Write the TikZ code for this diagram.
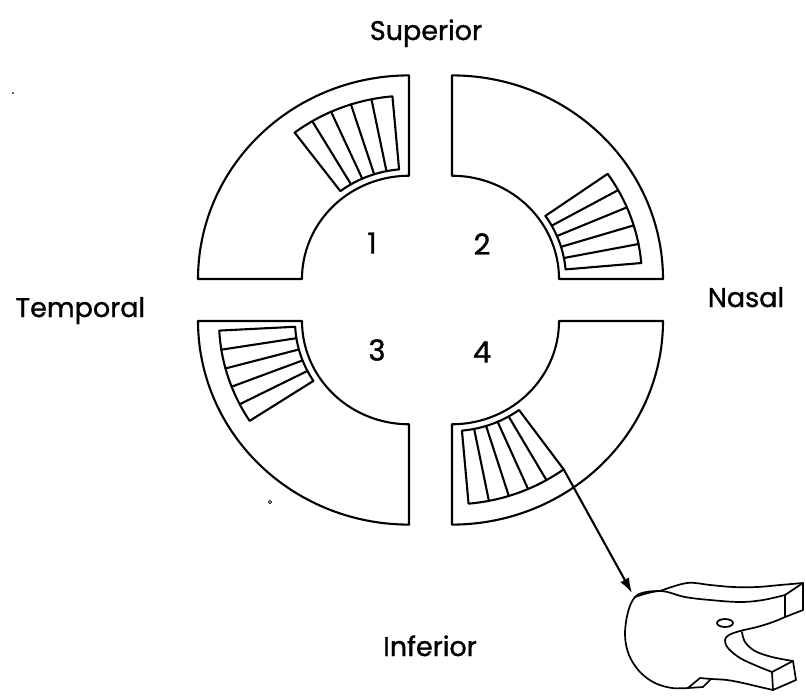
\documentclass[tikz,border=0pt]{standalone}
\usepackage{fontspec}
\setmainfont{Poppins}
\newfontfamily\lblfont{Poppins}[FakeBold=1.2]
\usetikzlibrary{arrows.meta}
% ring geometry (image-style coordinates, y pointing down)
\newcommand\RingIn{107}
\newcommand\RingOut{211}
\newcommand\BlkIn{114}
\newcommand\BlkOut{190}
\newcommand\Sq{0.965}
% one quarter of the split ring: corner x, corner y, start angle, end angle
\newcommand\quarterring[4]{%
  \draw[ringline] plot[domain=#3:#4, samples=70]
      ({#1+\RingOut*cos(\x)},{#2+\Sq*\RingOut*sin(\x)})
    -- plot[domain=#4:#3, samples=70]
      ({#1+\RingIn*cos(\x)},{#2+\Sq*\RingIn*sin(\x)}) -- cycle;}
% the ruled block inside a quarter: corner x, corner y, start angle, end angle
\newcommand\ruledblock[4]{%
  \draw[ringline] plot[domain=#3:#4, samples=30]
      ({#1+\BlkOut*cos(\x)},{#2+\Sq*\BlkOut*sin(\x)})
    -- plot[domain=#4:#3, samples=30]
      ({#1+\BlkIn*cos(\x)},{#2+\Sq*\BlkIn*sin(\x)}) -- cycle;
  \foreach \k in {1,...,4}{%
    \pgfmathsetmacro\ang{#3+\k*(#4-#3)/5}
    \draw[ringline] ({#1+\BlkIn*cos(\ang)},{#2+\Sq*\BlkIn*sin(\ang)})
      -- ({#1+\BlkOut*cos(\ang)},{#2+\Sq*\BlkOut*sin(\ang)});}}
\begin{document}
\begin{tikzpicture}[x=1pt,y=-1pt,line join=round,line cap=round,
  ringline/.style={line width=2.1pt},
  partline/.style={line width=1.7pt},
  sidelabel/.style={font=\lblfont\fontsize{27}{30}\selectfont},
  numlabel/.style={font=\lblfont\fontsize{29}{32}\selectfont}]
\useasboundingbox (0,0) rectangle (806,696);

% the four pieces of the ring
\quarterring{409}{279}{180}{270}
\quarterring{452}{279}{270}{360}
\quarterring{409}{321}{90}{180}
\quarterring{452}{321}{0}{90}

% ruled blocks
\ruledblock{409}{279}{233}{265}
\ruledblock{452}{279}{325}{355}
\ruledblock{409}{321}{147}{177}
\ruledblock{452}{321}{54}{85}

% quadrant numbers
\node[numlabel] (n1) at (372,243) {1};
\node[numlabel] (n2) at (482,244) {2};
\node[numlabel] (n3) at (377,350) {3};
\node[numlabel] (n4) at (482,352) {4};

% orientation labels
\node[sidelabel,anchor=base] (sup) at (426,40) {Superior};
\node[sidelabel,anchor=base west] (temp) at (12,317) {Temporal};
\node[sidelabel,anchor=base] (nas) at (746,307) {Nasal};
\node[sidelabel,anchor=base] (inf) at (430,656) {Inferior};

% stray specks
\fill (13,93) circle (1pt);
\draw[line width=0.8pt] (270,502) circle (1.6pt);

% arrow from the lower-right block to the part
\coordinate (blk4) at ({452+\BlkOut*cos(54)},{321+\Sq*\BlkOut*sin(54)});
\coordinate (part) at (632,593);
\draw[line width=2.1pt,-{Latex[length=15pt,width=10pt]}] (blk4) -- (part);

% the part itself
\begin{scope}[partline]
  % front face outline with the U cut
  \draw plot[smooth,tension=0.6] coordinates {
    (660,591) (646,592) (635,597) (628,612) (625,635) (629,655) (640,672)
    (655,683) (672,688) (688,688)};
  \draw (688,688) -- (700,678) -- (711,679);
  \draw (688,688) -- (703,687) -- (711,679);
  \draw plot[smooth,tension=0.6] coordinates {
    (711,679) (727,680) (743,683) (760,687) (773,690)};
  % lower arm end face
  \draw (773,690) -- (772,672) -- (793,661) -- (796,680) -- cycle;
  % inner edge of the U (front)
  \draw plot[smooth,tension=0.6] coordinates {
    (772,672) (757,666) (740,658) (728,648) (725,640) (729,635)
    (740,631) (757,627) (773,622) (785,617)};
  % inner edge of the U (back)
  \draw plot[smooth,tension=0.6] coordinates {
    (742,632) (745,642) (755,651) (772,657) (793,661)};
  % upper arm end face
  \draw (785,617) -- (785,595) -- (803,583) -- (803,610) -- cycle;
  % top surface edges
  \draw plot[smooth,tension=0.6] coordinates {
    (635,597) (660,591) (685,597) (710,600) (740,602) (763,600) (785,595)};
  \draw plot[smooth,tension=0.6] coordinates {
    (660,591) (687,583) (710,585) (733,587) (757,587) (780,585) (803,583)};
  % small hole
  \draw (725,623) ellipse [x radius=8, y radius=4];
\end{scope}
\end{tikzpicture}
\end{document}
